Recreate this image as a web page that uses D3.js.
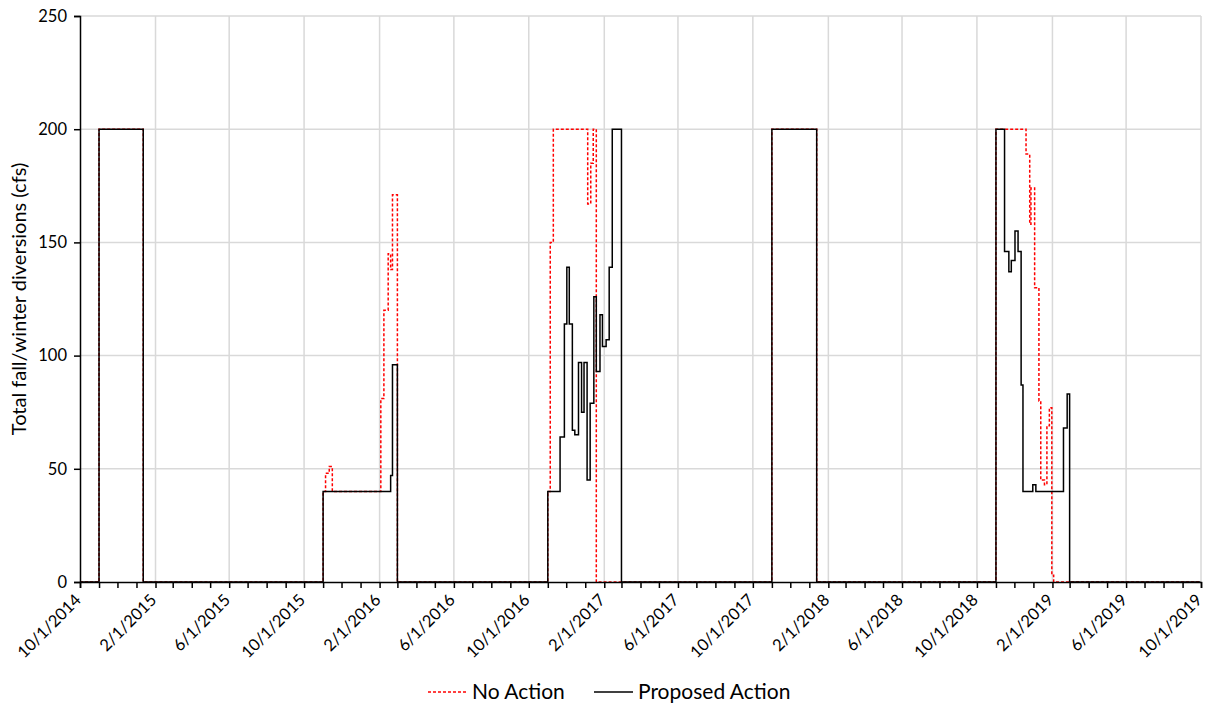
<!DOCTYPE html>
<html>
<head>
<meta charset="utf-8">
<script src="https://cdn.jsdelivr.net/npm/d3@7"></script>
<style>
  html, body { margin: 0; padding: 0; background: #fff; }
  svg { display: block; font-family: Lato, "Open Sans", sans-serif; }
</style>
</head>
<body>
<svg id="chart" width="1206" height="705"></svg>
<script>
// Daily diversion series, stored as change points (value holds until the next date).
const noActionDates = [
  "2014-10-01", "2014-11-01", "2015-01-12",
  "2015-11-01", "2015-11-05", "2015-11-11", "2015-11-16", "2016-02-03", "2016-02-08",
  "2016-02-15", "2016-02-19", "2016-02-22", "2016-03-01",
  "2016-11-01", "2016-11-05", "2016-11-10", "2017-01-05", "2017-01-10", "2017-01-14", "2017-01-19",
  "2017-11-01", "2018-01-13",
  "2018-11-01", "2018-12-20", "2018-12-26", "2018-12-28", "2019-01-03", "2019-01-10", "2019-01-13",
  "2019-01-19", "2019-01-23", "2019-01-27", "2019-01-31", "2019-02-03",
  "2019-09-30"
];
const noActionCfs = [
  0, 200, 0,
  40, 48, 51, 40, 81, 120,
  145, 138, 171, 0,
  40, 150, 200, 167, 185, 200, 0,
  200, 0,
  200, 189, 158, 174, 130, 80, 45,
  43, 69, 77, 3, 0,
  0
];

const proposedDates = [
  "2014-10-01", "2014-11-01", "2015-01-12",
  "2015-11-01", "2016-02-19", "2016-02-22", "2016-03-01",
  "2016-11-01", "2016-11-21", "2016-11-28", "2016-12-02", "2016-12-06", "2016-12-11", "2016-12-15",
  "2016-12-21", "2016-12-26", "2016-12-30", "2017-01-04", "2017-01-09", "2017-01-15", "2017-01-19",
  "2017-01-25", "2017-01-29", "2017-02-04", "2017-02-09", "2017-02-14", "2017-03-01",
  "2017-11-01", "2018-01-13",
  "2018-11-01", "2018-11-15", "2018-11-22", "2018-11-26", "2018-12-02", "2018-12-07", "2018-12-12",
  "2018-12-15", "2018-12-31", "2019-01-05", "2019-02-19", "2019-02-25", "2019-03-01",
  "2019-09-30"
];
const proposedCfs = [
  0, 200, 0,
  40, 47, 96, 0,
  40, 64, 114, 139, 114, 67, 65,
  97, 75, 97, 45, 79, 126, 93,
  118, 104, 107, 139, 200, 0,
  200, 0,
  200, 146, 137, 142, 155, 146, 87,
  40, 43, 40, 68, 83, 0,
  0
];

const xTickLabels = [
  "10/1/2014", "2/1/2015", "6/1/2015", "10/1/2015", "2/1/2016", "6/1/2016",
  "10/1/2016", "2/1/2017", "6/1/2017", "10/1/2017", "2/1/2018", "6/1/2018",
  "10/1/2018", "2/1/2019", "6/1/2019", "10/1/2019"
];
const yTicks = [0, 50, 100, 150, 200, 250];

const parseIso = d3.utcParse("%Y-%m-%d");
const parseUs = d3.utcParse("%m/%d/%Y");

const svg = d3.select("#chart");
const margin = { left: 80, right: 1201, top: 16, bottom: 582 };

const x = d3.scaleUtc()
  .domain([parseUs("10/1/2014"), parseUs("10/1/2019")])
  .range([margin.left, margin.right]);
const y = d3.scaleLinear().domain([0, 250]).range([margin.bottom, margin.top]);

const tickDates = xTickLabels.map(parseUs);

// Gridlines
const grid = svg.append("g").attr("stroke", "#d9d9d9").attr("stroke-width", 1.5);
grid.selectAll("line.h").data(yTicks.filter(v => v > 0)).join("line")
  .attr("x1", margin.left).attr("x2", margin.right)
  .attr("y1", d => y(d)).attr("y2", d => y(d));
grid.selectAll("line.v").data(tickDates.slice(1)).join("line")
  .attr("x1", d => x(d)).attr("x2", d => x(d))
  .attr("y1", margin.top).attr("y2", margin.bottom);

// Series
const series = [
  { dates: noActionDates, cfs: noActionCfs, color: "#ff0000", dash: "3,2" },
  { dates: proposedDates, cfs: proposedCfs, color: "#000000", dash: null }
];
const line = d3.line()
  .x(d => x(d[0])).y(d => y(d[1]))
  .curve(d3.curveStepAfter);
series.forEach(s => {
  const pts = s.dates.map((d, i) => [parseIso(d), s.cfs[i]]);
  svg.append("path")
    .attr("d", line(pts))
    .attr("fill", "none")
    .attr("stroke", s.color)
    .attr("stroke-width", 1.5)
    .attr("stroke-dasharray", s.dash)
    .attr("stroke-linejoin", "miter");
});

// Y axis
const yAxis = svg.append("g")
  .attr("transform", `translate(${margin.left},0)`)
  .call(d3.axisLeft(y).tickValues(yTicks).tickSize(6).tickPadding(7));
yAxis.select(".domain").attr("stroke", "#000").attr("stroke-width", 1.5);
yAxis.selectAll(".tick line").attr("stroke", "#000").attr("stroke-width", 1.5);
yAxis.selectAll(".tick text").attr("font-size", 16.5).attr("fill", "#000")
  .attr("font-family", "Lato, sans-serif");

// X axis: monthly ticks, labels every four months
const xAxis = svg.append("g")
  .attr("transform", `translate(0,${margin.bottom})`)
  .call(d3.axisBottom(x)
    .ticks(d3.utcMonth.every(1))
    .tickSize(6)
    .tickFormat(() => ""));
xAxis.select(".domain").attr("stroke", "#000").attr("stroke-width", 1.5);
xAxis.selectAll(".tick line").attr("stroke", "#000").attr("stroke-width", 1.5);

svg.append("g").selectAll("text").data(xTickLabels).join("text")
  .attr("transform", d => `translate(${x(parseUs(d)) - 2},${margin.bottom + 15}) rotate(-45)`)
  .attr("text-anchor", "end")
  .attr("dy", "0.35em")
  .attr("font-size", 16.5)
  .attr("fill", "#000")
  .text(d => d);

// Y axis title
svg.append("text")
  .attr("transform", `translate(26,${(margin.top + margin.bottom) / 2}) rotate(-90)`)
  .attr("text-anchor", "middle")
  .attr("font-size", 20)
  .attr("fill", "#000")
  .text("Total fall/winter diversions (cfs)");

// Legend
const legend = svg.append("g");
const legendItems = [
  { label: "No Action", color: "#ff0000", dash: "3,2", x0: 428 },
  { label: "Proposed Action", color: "#000000", dash: null, x0: 594 }
];
legendItems.forEach(it => {
  legend.append("line")
    .attr("x1", it.x0).attr("x2", it.x0 + 39)
    .attr("y1", 692).attr("y2", 692)
    .attr("stroke", it.color).attr("stroke-width", 1.5)
    .attr("stroke-dasharray", it.dash);
  legend.append("text")
    .attr("x", it.x0 + 44).attr("y", 692)
    .attr("dy", "0.35em")
    .attr("font-size", 21)
    .attr("fill", "#000")
    .text(it.label);
});
</script>
</body>
</html>
